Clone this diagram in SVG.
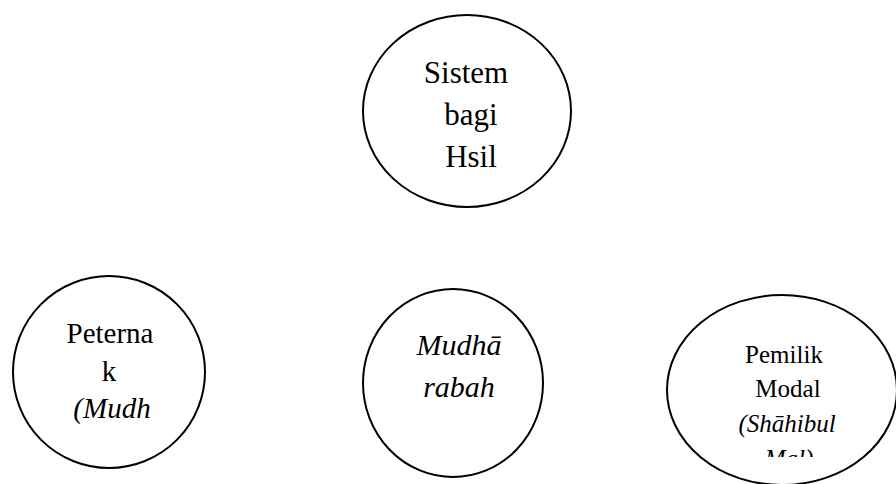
<svg xmlns="http://www.w3.org/2000/svg" width="896" height="484" viewBox="0 0 896 484">
<style>
.shape{fill:#fff;stroke:#000;stroke-width:2}
text{font-family:'Liberation Serif','Times New Roman',serif;fill:#000;text-anchor:middle}
.i{font-style:italic}
</style>
<defs>
<clipPath id="clipR"><rect x="660" y="300" width="236" height="157"/></clipPath>
</defs>
<rect width="896" height="484" fill="#fff"/>
<g id="connectors"/>
<g id="node-sistem">
<ellipse class="shape" cx="467" cy="111" rx="104" ry="96"/>
<text font-size="31" x="466" y="83">Sistem</text>
<text font-size="31" x="471" y="125">bagi</text>
<text font-size="31" x="471" y="167">Hsil</text>
</g>
<g id="node-peternak">
<ellipse class="shape" cx="109" cy="372" rx="96" ry="96"/>
<text font-size="29" x="110" y="343">Peterna</text>
<text font-size="29" x="109" y="381">k</text>
<text class="i" font-size="29" x="112" y="418">(Mudh</text>
</g>
<g id="node-mudharabah">
<ellipse class="shape" cx="453" cy="383" rx="90" ry="94"/>
<text class="i" font-size="30" x="459" y="355">Mudhā</text>
<text class="i" font-size="30" x="459" y="397">rabah</text>
</g>
<g id="node-pemilik">
<ellipse class="shape" cx="782" cy="390" rx="115" ry="95"/>
<g clip-path="url(#clipR)">
<text font-size="25" x="784" y="363">Pemilik</text>
<text font-size="25" x="788" y="397">Modal</text>
<text class="i" font-size="25" x="787" y="432">(Shāhibul</text>
<text class="i" font-size="25" x="789" y="467">Mal)</text>
</g>
</g>
</svg>
